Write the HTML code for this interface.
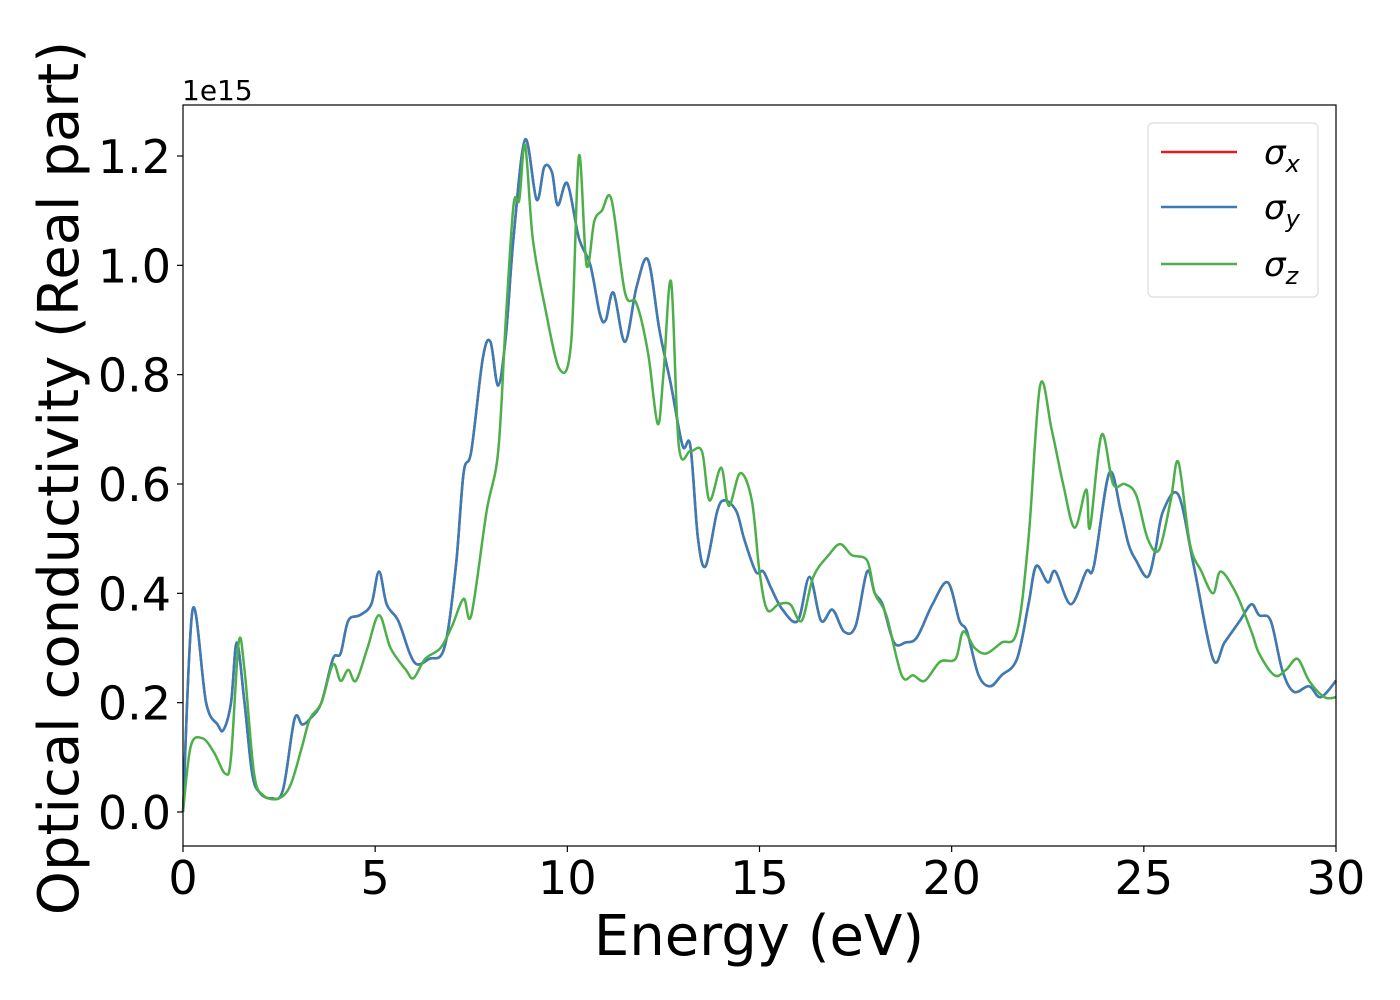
<!DOCTYPE html>
<html><head><meta charset="utf-8"><style>
html,body{margin:0;padding:0;background:#fff;}
svg{display:block;font-family:"DejaVu Sans","Liberation Sans",sans-serif;}
</style></head><body>
<svg id="chart" width="1400" height="1000" viewBox="0 0 1400 1000">
<rect x="0" y="0" width="1400" height="1000" fill="#fff"/>
<g id="plot"></g>
<rect x="183" y="105" width="1153" height="741" fill="none" stroke="#000" stroke-width="1.2"/>
<g id="xticks"></g>
<g id="yticks"></g>
<text x="182" y="100" font-size="28">1e15</text>
<text x="759" y="955" font-size="56" text-anchor="middle">Energy (eV)</text>
<text transform="translate(78,478) rotate(-90)" font-size="56" text-anchor="middle">Optical conductivity (Real part)</text>
<g>
<rect x="1148" y="123" width="170" height="174" rx="5" fill="#fff" fill-opacity="0.8" stroke="#ddd" stroke-width="1.2"/>
<line x1="1161" y1="152" x2="1237" y2="152" stroke="#e41a1c" stroke-width="2.5"/>
<text x="1264" y="164" font-size="34" font-style="italic">σ<tspan font-size="24" dy="8">x</tspan></text>
<line x1="1161" y1="207" x2="1237" y2="207" stroke="#377eb8" stroke-width="2.5"/>
<text x="1264" y="219" font-size="34" font-style="italic">σ<tspan font-size="24" dy="8">y</tspan></text>
<line x1="1161" y1="264" x2="1237" y2="264" stroke="#4daf4a" stroke-width="2.5"/>
<text x="1264" y="276" font-size="34" font-style="italic">σ<tspan font-size="24" dy="8">z</tspan></text>
</g>
</svg>
<script>
const energyXY = [0,0.25,0.6,0.9,1.05,1.25,1.4,1.6,1.8,2.0,2.3,2.6,2.9,3.1,3.3,3.6,3.9,4.1,4.3,4.6,4.9,5.1,5.3,5.6,5.9,6.1,6.4,6.8,7.1,7.3,7.5,7.8,8.0,8.2,8.4,8.6,8.9,9.2,9.4,9.6,9.75,10.0,10.3,10.6,10.85,11.0,11.2,11.5,11.8,12.1,12.4,12.7,13.0,13.2,13.4,13.6,13.9,14.1,14.4,14.6,14.9,15.1,15.3,15.6,16.0,16.3,16.6,16.9,17.2,17.5,17.8,18.0,18.2,18.5,18.8,19.1,19.5,19.9,20.2,20.4,20.7,21.0,21.3,21.7,22.0,22.2,22.5,22.7,23.1,23.5,23.7,24.1,24.4,24.6,24.8,25.1,25.3,25.5,25.9,26.3,26.8,27.1,27.5,27.8,28.0,28.3,28.6,28.9,29.3,29.6,30];
const sigmaXY = [0,0.37,0.2,0.16,0.15,0.2,0.31,0.2,0.07,0.035,0.025,0.04,0.17,0.16,0.17,0.2,0.28,0.29,0.35,0.36,0.38,0.44,0.38,0.35,0.29,0.27,0.28,0.3,0.45,0.62,0.66,0.83,0.86,0.78,0.87,1.05,1.23,1.12,1.18,1.17,1.11,1.15,1.05,1.0,0.91,0.9,0.95,0.86,0.96,1.01,0.88,0.78,0.67,0.67,0.5,0.45,0.55,0.57,0.55,0.5,0.44,0.44,0.41,0.37,0.35,0.43,0.35,0.37,0.33,0.34,0.44,0.4,0.38,0.31,0.31,0.32,0.38,0.42,0.35,0.33,0.25,0.23,0.25,0.28,0.38,0.45,0.42,0.44,0.38,0.44,0.45,0.62,0.55,0.49,0.46,0.43,0.48,0.55,0.58,0.45,0.28,0.31,0.35,0.38,0.36,0.35,0.26,0.22,0.23,0.21,0.24];
const energyZ = [0,0.2,0.5,0.8,1.1,1.25,1.45,1.6,1.85,2.1,2.5,2.8,3.1,3.3,3.6,3.9,4.1,4.3,4.5,4.8,5.1,5.4,5.8,6.0,6.3,6.7,7.0,7.3,7.5,7.9,8.2,8.4,8.6,8.75,8.9,9.1,9.4,9.8,10.1,10.3,10.5,10.7,10.9,11.15,11.5,11.8,12.1,12.35,12.5,12.7,12.9,13.2,13.5,13.7,14.0,14.2,14.5,14.8,15.0,15.2,15.5,15.8,16.1,16.4,16.8,17.1,17.4,17.8,18.0,18.3,18.7,19.0,19.3,19.7,20.1,20.3,20.6,20.9,21.3,21.7,22.0,22.3,22.6,22.9,23.2,23.5,23.6,23.9,24.2,24.5,24.8,25.1,25.4,25.7,25.9,26.2,26.5,26.8,27.0,27.4,27.8,28.0,28.4,28.7,29.0,29.3,29.7,30];
const sigmaZ = [0,0.12,0.135,0.11,0.07,0.1,0.31,0.26,0.07,0.03,0.025,0.05,0.12,0.17,0.2,0.27,0.24,0.26,0.24,0.3,0.36,0.3,0.26,0.245,0.28,0.3,0.34,0.39,0.36,0.55,0.66,0.9,1.11,1.12,1.22,1.05,0.93,0.81,0.86,1.2,1.0,1.08,1.1,1.12,0.95,0.93,0.84,0.71,0.8,0.97,0.67,0.66,0.66,0.57,0.63,0.56,0.62,0.57,0.44,0.37,0.38,0.38,0.35,0.43,0.47,0.49,0.47,0.46,0.4,0.36,0.25,0.25,0.24,0.275,0.28,0.33,0.3,0.29,0.31,0.33,0.5,0.78,0.7,0.6,0.52,0.59,0.52,0.69,0.6,0.6,0.58,0.5,0.48,0.57,0.64,0.49,0.44,0.4,0.44,0.4,0.33,0.29,0.25,0.26,0.28,0.24,0.21,0.21];
const xTicks = [0,5,10,15,20,25,30];
const yTicks = [0.0,0.2,0.4,0.6,0.8,1.0,1.2];

const NS = "http://www.w3.org/2000/svg";
const X0 = 183, X1 = 1336, Y0 = 812, YPER = 546.67;
function xScale(e){ return X0 + (e/30)*(X1-X0); }
function yScale(v){ return Y0 - v*YPER; }

function smoothPath(xs, ys){
  const p = xs.map((x,i)=>[xScale(x), yScale(ys[i])]);
  let d = "M"+p[0][0].toFixed(1)+","+p[0][1].toFixed(1);
  for(let i=0;i<p.length-1;i++){
    const a=p[Math.max(0,i-1)], b=p[i], c=p[i+1], e=p[Math.min(p.length-1,i+2)];
    const c1x=b[0]+(c[0]-a[0])/6, c1y=b[1]+(c[1]-a[1])/6;
    const c2x=c[0]-(e[0]-b[0])/6, c2y=c[1]-(e[1]-b[1])/6;
    d += " C"+c1x.toFixed(1)+","+c1y.toFixed(1)+" "+c2x.toFixed(1)+","+c2y.toFixed(1)+" "+c[0].toFixed(1)+","+c[1].toFixed(1);
  }
  return d;
}
const plot = document.getElementById("plot");
function addLine(xs, ys, color, name){
  const path = document.createElementNS(NS,"path");
  path.setAttribute("d", smoothPath(xs, ys));
  path.setAttribute("fill","none");
  path.setAttribute("stroke",color);
  path.setAttribute("stroke-width","2.5");
  path.setAttribute("stroke-linejoin","round");
  
  
  plot.appendChild(path);
}
addLine(energyXY, sigmaXY, "#e41a1c", "line-sigma-x");
addLine(energyXY, sigmaXY, "#377eb8", "line-sigma-y");
addLine(energyZ, sigmaZ, "#4daf4a", "line-sigma-z");

const xg = document.getElementById("xticks");
xTicks.forEach(t=>{
  const x = xScale(t);
  const l = document.createElementNS(NS,"line");
  l.setAttribute("x1",x); l.setAttribute("x2",x); l.setAttribute("y1",846); l.setAttribute("y2",852);
  l.setAttribute("stroke","#000"); l.setAttribute("stroke-width","1.2");
  
  
  xg.appendChild(l);
  const tx = document.createElementNS(NS,"text");
  tx.setAttribute("x",x); tx.setAttribute("y",894);
  tx.setAttribute("font-size","46"); tx.setAttribute("text-anchor","middle");
  tx.textContent = String(t);
  
  
  xg.appendChild(tx);
});
const yg = document.getElementById("yticks");
yTicks.forEach(t=>{
  const y = yScale(t);
  const l = document.createElementNS(NS,"line");
  l.setAttribute("x1",177); l.setAttribute("x2",183); l.setAttribute("y1",y); l.setAttribute("y2",y);
  l.setAttribute("stroke","#000"); l.setAttribute("stroke-width","1.2");
  
  
  yg.appendChild(l);
  const tx = document.createElementNS(NS,"text");
  tx.setAttribute("x",171); tx.setAttribute("y",y+17);
  tx.setAttribute("font-size","46"); tx.setAttribute("text-anchor","end");
  tx.textContent = t.toFixed(1);
  
  
  yg.appendChild(tx);
});
</script>
</body></html>
